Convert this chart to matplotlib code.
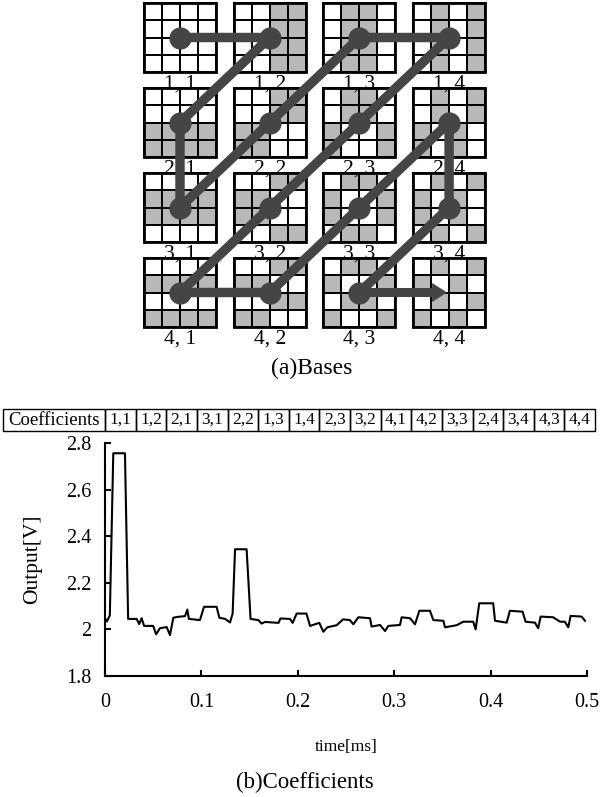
import numpy as np
import matplotlib.pyplot as plt
from matplotlib.patches import Rectangle

plt.rcParams['font.family'] = ['Liberation Serif', 'DejaVu Serif']

# 1-D Walsh sequences (1 = gray cell); basis (i, j) = walsh[i] xor walsh[j]
walsh = [[0, 0, 0, 0],
         [0, 0, 1, 1],
         [0, 1, 1, 0],
         [0, 1, 0, 1]]

# zigzag scan order of the coefficients
order = [(1, 1), (1, 2), (2, 1), (3, 1), (2, 2), (1, 3), (1, 4), (2, 3),
         (3, 2), (4, 1), (4, 2), (3, 3), (2, 4), (3, 4), (4, 3), (4, 4)]
coef_labels = ["%d,%d" % (i, j) for i, j in order]

# measured output
time_ms = [0, 0.002, 0.005, 0.0086, 0.0207, 0.024, 0.0328, 0.0355, 0.038, 0.0405,
           0.050, 0.053, 0.057, 0.064, 0.0674, 0.0709, 0.076, 0.083, 0.0854, 0.087,
           0.0985, 0.1027, 0.1158, 0.1186, 0.1245, 0.1297, 0.1324, 0.1349, 0.1469, 0.151,
           0.159, 0.1625, 0.166, 0.18, 0.182, 0.1919, 0.1947, 0.1988, 0.209, 0.2127,
           0.2223, 0.2265, 0.2306, 0.2403, 0.247, 0.254, 0.2576, 0.2628, 0.2749, 0.2766,
           0.2853, 0.2905, 0.2939, 0.306, 0.3077, 0.3164, 0.3216, 0.3261, 0.3371, 0.3406,
           0.351, 0.3527, 0.3648, 0.3717, 0.382, 0.3845, 0.3882, 0.4027, 0.4046, 0.4167,
           0.42, 0.4332, 0.4363, 0.446, 0.4494, 0.4519, 0.465, 0.472, 0.477, 0.4806,
           0.483, 0.4944, 0.4979]
volt = [2.048, 2.034, 2.06, 2.756, 2.756, 2.045, 2.045, 2.023, 2.048, 2.015,
        2.015, 1.979, 2.005, 2.01, 1.976, 2.05, 2.054, 2.057, 2.085, 2.045,
        2.04, 2.097, 2.097, 2.05, 2.045, 2.03, 2.068, 2.344, 2.344, 2.045,
        2.04, 2.025, 2.032, 2.028, 2.047, 2.045, 2.028, 2.068, 2.068, 2.015,
        2.028, 1.99, 2.009, 2.018, 2.043, 2.04, 2.022, 2.052, 2.048, 2.012,
        2.019, 1.993, 2.015, 2.019, 2.052, 2.048, 2.022, 2.08, 2.08, 2.04,
        2.037, 2.009, 2.018, 2.033, 2.033, 2.0, 2.112, 2.112, 2.037, 2.029,
        2.08, 2.076, 2.033, 2.029, 2.005, 2.055, 2.052, 2.033, 2.033, 2.009,
        2.058, 2.055, 2.037]

W, H = 605, 797
fig = plt.figure(figsize=(W / 100, H / 100), dpi=100)

# pixel-coordinate canvas for the bases and the table
canvas = fig.add_axes([0, 0, 1, 1])
canvas.set_xlim(0, W)
canvas.set_ylim(H, 0)
canvas.axis('off')

bx0, by0, pitch_x, pitch_y = 144, 3, 89.7, 85
bw, bh = 72, 69
cw, ch = bw / 4, bh / 4
gray = '#b8b8b8'
path_c = '#454545'

def center(i, j):
    return bx0 + (j - 1) * pitch_x + bw / 2, by0 + (i - 1) * pitch_y + bh / 2

for i in range(1, 5):
    for j in range(1, 5):
        x0 = bx0 + (j - 1) * pitch_x
        y0 = by0 + (i - 1) * pitch_y
        for r in range(4):
            for c in range(4):
                on = walsh[i - 1][r] ^ walsh[j - 1][c]
                canvas.add_patch(Rectangle((x0 + c * cw, y0 + r * ch), cw, ch,
                                           facecolor=gray if on else 'white',
                                           edgecolor='black', lw=1.4, zorder=1))
        canvas.add_patch(Rectangle((x0, y0), bw, bh, fill=False,
                                   edgecolor='black', lw=2, zorder=2))
        canvas.text(x0 + bw / 2, y0 + bh + 12, "%d, %d" % (i, j),
                    ha='center', va='center', fontsize=15.5, zorder=2)

pts = [center(i, j) for i, j in order]
px = [p[0] for p in pts[:-1]]
py = [p[1] for p in pts[:-1]]
canvas.plot(px, py, '-', color=path_c, lw=6.8, solid_capstyle='butt', zorder=3)
canvas.plot(px, py, 'o', color=path_c, ms=15, zorder=4)
(ax_, ay_), (tx_, ty_) = pts[-2], pts[-1]
canvas.arrow(ax_, ay_, tx_ - ax_ - 2, ty_ - ay_, width=9, head_width=19,
             head_length=15, length_includes_head=True, color=path_c, lw=0, zorder=3)

canvas.text(312, 368, "(a)Bases", ha='center', va='center', fontsize=17)

# coefficient table
t_top, t_h = 409, 22
canvas.add_patch(Rectangle((3, t_top), 102, t_h, fill=False, edgecolor='black', lw=1))
canvas.text(54, t_top + t_h / 2, "Coefficients", ha='center', va='center', fontsize=13.5)
cell_w = (595 - 105) / len(coef_labels)
for k, lab in enumerate(coef_labels):
    x = 105 + k * cell_w
    canvas.add_patch(Rectangle((x, t_top), cell_w, t_h, fill=False, edgecolor='black', lw=1))
    canvas.text(x + cell_w / 2, t_top + t_h / 2, lab, ha='center', va='center', fontsize=12.5)

# output plot
ax = fig.add_axes([105 / W, 1 - 676 / H, (587 - 105) / W, (676 - 443) / H])
ax.patch.set_alpha(0)
ax.plot(time_ms, volt, color='black', lw=1.5)
ax.set_xlim(0, 0.5)
ax.set_ylim(1.8, 2.8)
ax.set_xticks([0, 0.1, 0.2, 0.3, 0.4, 0.5])
ax.set_xticklabels(['0', '0.1', '0.2', '0.3', '0.4', '0.5'])
ax.set_yticks([1.8, 2, 2.2, 2.4, 2.6, 2.8])
ax.set_yticklabels(['1.8', '2', '2.2', '2.4', '2.6', '2.8'])
for s in ['top', 'right']:
    ax.spines[s].set_visible(False)
for s in ['left', 'bottom']:
    ax.spines[s].set_linewidth(1.5)
ax.tick_params(axis='both', direction='in', length=4, width=1.5, labelsize=14.5)
ax.tick_params(axis='x', pad=12)
ax.tick_params(axis='y', pad=10)
ax.set_xlabel('time[ms]', fontsize=12.5, labelpad=20)
ax.set_ylabel('Output[V]', fontsize=15.5, labelpad=17)

canvas.text(305, 782, "(b)Coefficients", ha='center', va='center', fontsize=16.5)

fig.savefig('out.png', dpi=100)
